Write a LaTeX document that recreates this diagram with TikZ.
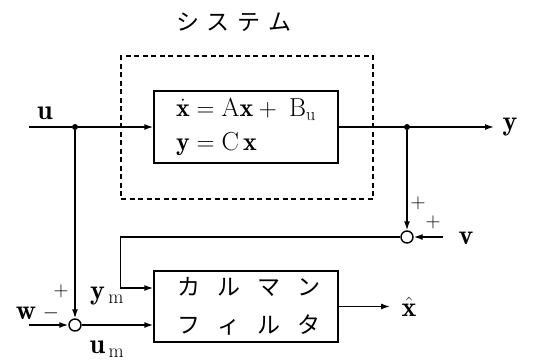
\documentclass[tikz,border=0pt]{standalone}
\usepackage{fontspec}
\newfontfamily\jpfont{Noto Sans CJK JP}
\usetikzlibrary{arrows.meta,positioning,calc}

\newcommand\kgap{\hspace{8pt}}
\newcommand\kwide{\hspace{17pt}}

\begin{document}
\begin{tikzpicture}[x=1pt,y=-1pt,
  font=\fontsize{26}{34}\selectfont,
  blk/.style={draw,line width=1.4pt,minimum width=184pt,minimum height=72pt,inner sep=2pt},
  sysframe/.style={draw,dash pattern=on 5pt off 3.5pt,line width=1.4pt,
                   minimum width=252pt,minimum height=143pt},
  sumc/.style={circle,draw,line width=1.4pt,minimum size=12pt,inner sep=0pt},
  jdot/.style={circle,fill,minimum size=6pt,inner sep=0pt},
  sig/.style={line width=1.4pt},
  fl/.style={sig,-{Latex[length=9pt,width=6pt]}},
  lbl/.style={inner sep=0pt,font=\fontsize{28}{30}\selectfont},
  sgn/.style={inner sep=0pt,font=\fontsize{21}{24}\selectfont},
  jp/.style={font=\jpfont\fontsize{23}{38}\selectfont}
]
\useasboundingbox (0,0) rectangle (554,362);

\node[jp] (title) at (234,22) {シ\kgap ス\kgap テ\kgap ム};
\node[sysframe] (frm) at (247,127.5) {};
\node[blk,align=left] (plant) at (246,127)
  {$\dot{\mathbf{x}}=\mathrm{A}\mathbf{x}+\;\mathrm{B}_{\mathrm{u}}$\\
   $\mathbf{y}=\mathrm{C}\,\mathbf{x}$};
\node[blk,jp,minimum height=71pt,align=center] (kal) at (246,306.5)
  {\hspace*{6pt}カ\kwide ル\kwide マ\kwide ン\\ \hspace*{6pt}フ\kwide ィ\kwide ル\kwide タ};

% junctions and summing points
\node[jdot] (ju) at (75,127) {};
\node[jdot] (jy) at (407,127) {};
\node[sumc] (s1) at (407,237) {};
\node[sumc] (s2) at (75,325) {};
\coordinate (uin)  at (29,127);
\coordinate (yout) at (494,127);
\coordinate (vin)  at (443,237);
\coordinate (win)  at (29,325);
\coordinate (xout) at (390,306.5);

\draw[sig] (uin) -- (ju);
\draw[fl] (ju) -- (plant);
\draw[fl] (plant.east) -- (yout);
\draw[fl] (jy) -- (s1);
\draw[fl] (vin) -- (s1);
\draw[fl] (s1.west) -| ($(kal.west)+(-33,-18.5)$) -- ($(kal.west)+(0,-18.5)$);
\draw[fl] (ju) -- (s2);
\draw[fl] (win) -- (s2);
\draw[fl] (s2.east) -- (s2.east -| kal.west);
\draw[fl] (kal.east) -- (xout);

% signal labels
\node[lbl] (lu)  at (45,113)  {$\mathbf{u}$};
\node[lbl] (ly)  at (510,127) {$\mathbf{y}$};
\node[lbl] (lv)  at (466,238) {$\mathbf{v}$};
\node[lbl] (lw)  at (26,313)  {$\mathbf{w}$};
\node[lbl] (lym) at (107,296) {$\mathbf{y}_{\,\mathrm{m}}$};
\node[lbl] (lum) at (107,349) {$\mathbf{u}_{\,\mathrm{m}}$};
\node[lbl] (lxh) at (409,307) {$\hat{\mathbf{x}}$};

% signs
\node[sgn] (p1) at (418,203) {$+$};
\node[sgn] (p2) at (433,222) {$+$};
\node[sgn] (p3) at (61,291)  {$+$};
\node[sgn] (m1) at (51,313)  {$-$};
\end{tikzpicture}
\end{document}
